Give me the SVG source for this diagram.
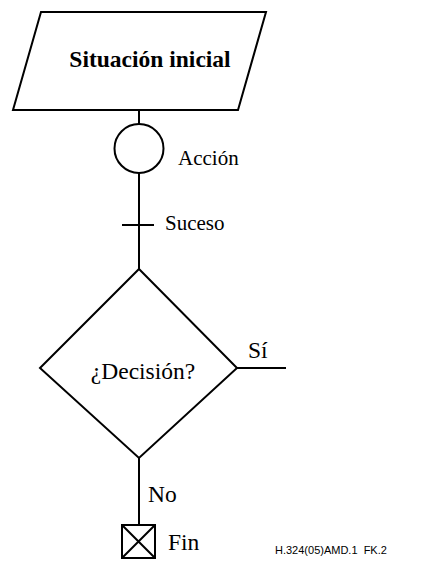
<svg xmlns="http://www.w3.org/2000/svg" width="436" height="561" viewBox="0 0 436 561">
  <style>
    .shape { fill: #fff; stroke: #000; stroke-width: 2; }
    .line { fill: none; stroke: #000; stroke-width: 2; }
    .lbl { font-family: "Liberation Serif", "Times New Roman", serif; font-size: 21px; fill: #000; }
    .big { font-size: 23.5px; }
    .title { font-family: "Liberation Serif", "Times New Roman", serif; font-size: 23.5px; font-weight: bold; fill: #000; }
    .ref { font-family: "Liberation Sans", Arial, sans-serif; font-size: 11px; fill: #000; }
  </style>
  <rect width="436" height="561" fill="#fff"/>

  <g id="connectors">
    <line class="line" x1="139" y1="110" x2="139" y2="124"/>
    <line class="line" x1="139" y1="173" x2="139" y2="269"/>
    <line class="line" x1="122" y1="225" x2="154" y2="225"/>
    <line class="line" x1="237" y1="368" x2="286" y2="368"/>
    <line class="line" x1="139" y1="458" x2="139" y2="525"/>
  </g>

  <g id="start">
    <polygon class="shape" points="41,12 266,12 238,110 13,110"/>
    <text class="title" x="150" y="67" text-anchor="middle">Situación inicial</text>
  </g>

  <g id="action">
    <circle class="shape" cx="139" cy="148.5" r="24.5"/>
    <text class="lbl" x="178" y="165">Acción</text>
  </g>

  <g id="event">
    <text class="lbl" x="165" y="230">Suceso</text>
  </g>

  <g id="decision">
    <polygon class="shape" points="139,269 237,368 139,458 40,368"/>
    <text class="lbl big" x="143" y="379" text-anchor="middle">¿Decisión?</text>
    <text class="lbl big" x="248" y="358">Sí</text>
    <text class="lbl big" x="148" y="502">No</text>
  </g>

  <g id="end">
    <rect class="shape" x="122" y="525" width="33" height="33" stroke-width="2.5"/>
    <path class="line" d="M122,525 L155,558 M155,525 L122,558" stroke-width="1.2"/>
    <text class="lbl big" x="168" y="550">Fin</text>
  </g>

  <text class="ref" x="275" y="554" xml:space="preserve">H.324(05)AMD.1  FK.2</text>
</svg>
